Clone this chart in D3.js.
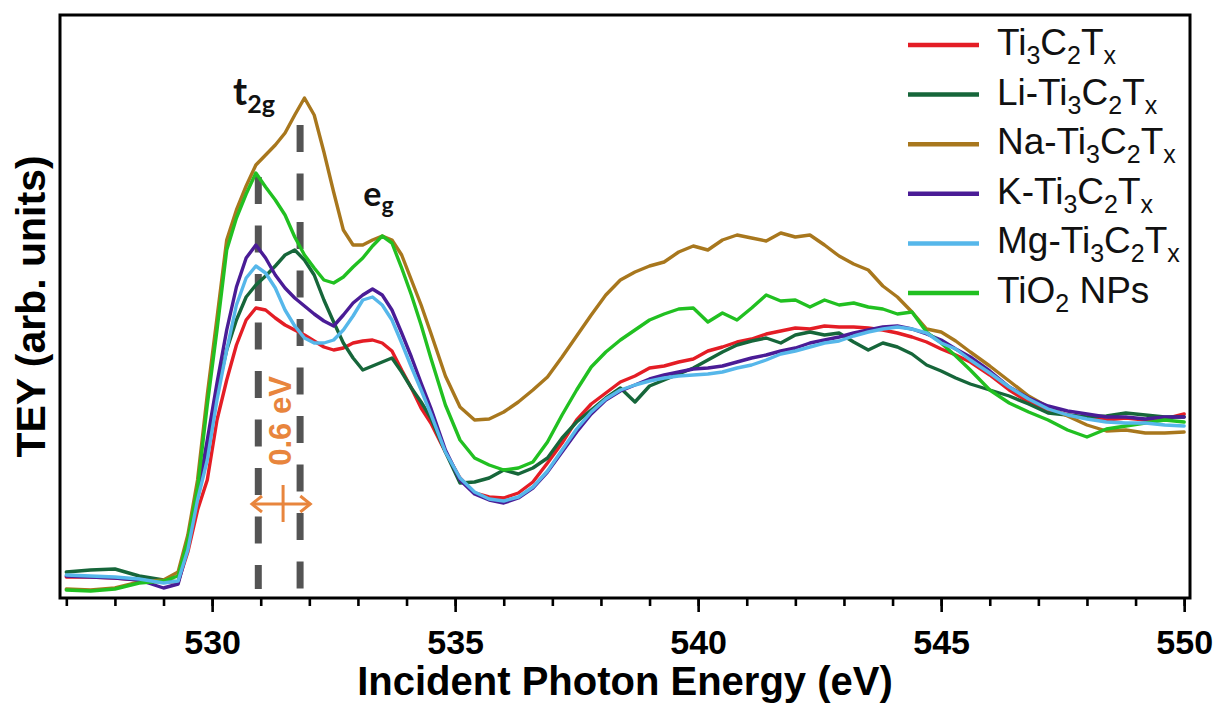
<!DOCTYPE html>
<html>
<head>
<meta charset="utf-8">
<script src="https://cdn.jsdelivr.net/npm/d3@7"></script>
<style>
  html, body { margin: 0; padding: 0; background: #fff; }
  svg { display: block; }
</style>
</head>
<body>
<svg id="chart" width="1217" height="704"></svg>
<script>
// ---------------- DATA ----------------
const energy = [527.0, 527.5, 528.0, 528.5, 529.0, 529.3, 529.5, 529.7, 529.9, 530.1,
  530.3, 530.5, 530.7, 530.9, 531.1, 531.3, 531.5, 531.7, 531.9, 532.1,
  532.3, 532.5, 532.7, 532.9, 533.1, 533.3, 533.5, 533.7, 533.9, 534.1,
  534.3, 534.5, 534.8, 535.1, 535.4, 535.7, 536.0, 536.3, 536.6, 536.9,
  537.2, 537.5, 537.8, 538.1, 538.4, 538.7, 539.0, 539.3, 539.6, 539.9,
  540.2, 540.5, 540.8, 541.1, 541.4, 541.7, 542.0, 542.3, 542.6, 542.9,
  543.2, 543.5, 543.8, 544.1, 544.4, 544.7, 545.0, 545.3, 545.6, 546.0,
  546.4, 546.8, 547.2, 547.6, 548.0, 548.4, 548.8, 549.2, 549.6, 550.0];

const ti3c2tx = [0.21, 0.21, 0.20, 0.18, 0.16, 0.16, 0.46, 0.88, 1.18, 1.78,
  2.18, 2.53, 2.78, 2.90, 2.88, 2.80, 2.73, 2.68, 2.63, 2.57,
  2.51, 2.48, 2.50, 2.55, 2.57, 2.58, 2.55, 2.47, 2.28, 2.10,
  1.90, 1.75, 1.46, 1.20, 1.05, 1.01, 1.00, 1.05, 1.16, 1.35,
  1.55, 1.78, 1.94, 2.05, 2.16, 2.22, 2.30, 2.32, 2.36, 2.39,
  2.47, 2.51, 2.56, 2.59, 2.64, 2.67, 2.70, 2.69, 2.72, 2.71,
  2.71, 2.70, 2.68, 2.65, 2.61, 2.56, 2.49, 2.43, 2.36, 2.23,
  2.08, 1.96, 1.88, 1.83, 1.80, 1.78, 1.80, 1.78, 1.79, 1.84];

const liTi3c2tx = [0.26, 0.28, 0.29, 0.22, 0.18, 0.16, 0.53, 1.03, 1.48, 2.06,
  2.48, 2.78, 3.01, 3.13, 3.22, 3.32, 3.43, 3.48, 3.38, 3.23,
  2.98, 2.76, 2.55, 2.40, 2.28, 2.32, 2.36, 2.40, 2.26, 2.10,
  1.96, 1.80, 1.46, 1.15, 1.16, 1.20, 1.28, 1.24, 1.30, 1.40,
  1.60, 1.76, 1.88, 2.00, 2.10, 1.96, 2.12, 2.18, 2.24, 2.30,
  2.38, 2.46, 2.53, 2.57, 2.60, 2.55, 2.63, 2.66, 2.63, 2.65,
  2.56, 2.48, 2.55, 2.51, 2.44, 2.33, 2.27, 2.20, 2.14, 2.08,
  2.02, 1.94, 1.85, 1.83, 1.81, 1.82, 1.85, 1.83, 1.81, 1.81];

const naTi3c2tx = [0.09, 0.08, 0.10, 0.16, 0.18, 0.26, 0.63, 1.18, 2.03, 2.80,
  3.58, 3.88, 4.12, 4.33, 4.43, 4.53, 4.65, 4.83, 5.00, 4.83,
  4.46, 4.06, 3.68, 3.53, 3.53, 3.58, 3.62, 3.58, 3.43, 3.18,
  2.93, 2.65, 2.22, 1.91, 1.78, 1.79, 1.86, 1.96, 2.08, 2.21,
  2.41, 2.62, 2.83, 3.03, 3.18, 3.26, 3.32, 3.36, 3.46, 3.52,
  3.48, 3.58, 3.63, 3.60, 3.57, 3.65, 3.61, 3.63, 3.53, 3.42,
  3.34, 3.28, 3.12, 3.01, 2.86, 2.69, 2.66, 2.57, 2.46, 2.32,
  2.17, 2.02, 1.91, 1.82, 1.73, 1.67, 1.68, 1.65, 1.65, 1.66];

const kTi3c2tx = [0.22, 0.21, 0.20, 0.18, 0.10, 0.14, 0.50, 1.03, 1.58, 2.15,
  2.68, 3.11, 3.40, 3.53, 3.40, 3.23, 3.10, 3.00, 2.92, 2.84,
  2.77, 2.72, 2.83, 2.95, 3.03, 3.09, 3.03, 2.88, 2.65, 2.41,
  2.15, 1.90, 1.48, 1.18, 1.04, 0.98, 0.95, 1.00, 1.10, 1.26,
  1.46, 1.66, 1.84, 1.98, 2.07, 2.13, 2.19, 2.23, 2.26, 2.29,
  2.30, 2.32, 2.36, 2.40, 2.43, 2.47, 2.50, 2.55, 2.58, 2.61,
  2.65, 2.68, 2.71, 2.72, 2.69, 2.64, 2.58, 2.49, 2.41, 2.27,
  2.11, 2.00, 1.92, 1.87, 1.84, 1.81, 1.81, 1.79, 1.81, 1.81];

const mgTi3c2tx = [0.23, 0.22, 0.21, 0.19, 0.15, 0.17, 0.48, 0.98, 1.38, 1.98,
  2.48, 2.93, 3.20, 3.32, 3.25, 3.10, 2.88, 2.72, 2.60, 2.55,
  2.55, 2.58, 2.68, 2.82, 2.98, 3.01, 2.93, 2.78, 2.55, 2.31,
  2.08, 1.84, 1.46, 1.20, 1.06, 0.99, 0.97, 1.01, 1.11, 1.27,
  1.48, 1.69, 1.86, 1.99, 2.08, 2.13, 2.17, 2.20, 2.22, 2.23,
  2.24, 2.26, 2.30, 2.33, 2.38, 2.44, 2.47, 2.51, 2.55, 2.57,
  2.62, 2.66, 2.69, 2.71, 2.69, 2.65, 2.55, 2.49, 2.38, 2.25,
  2.11, 1.99, 1.89, 1.83, 1.79, 1.76, 1.75, 1.75, 1.73, 1.72];

const tio2NPs = [0.08, 0.07, 0.09, 0.15, 0.17, 0.22, 0.58, 1.10, 1.93, 2.68,
  3.48, 3.80, 4.04, 4.25, 4.11, 3.98, 3.83, 3.61, 3.43, 3.30,
  3.18, 3.15, 3.21, 3.31, 3.40, 3.52, 3.62, 3.55, 3.30, 3.03,
  2.73, 2.40, 1.93, 1.58, 1.40, 1.33, 1.28, 1.30, 1.36, 1.56,
  1.83, 2.08, 2.31, 2.46, 2.58, 2.68, 2.78, 2.84, 2.89, 2.90,
  2.76, 2.85, 2.78, 2.90, 3.03, 2.97, 2.98, 2.91, 2.98, 2.93,
  2.95, 2.91, 2.89, 2.84, 2.86, 2.66, 2.55, 2.42, 2.28, 2.08,
  1.95, 1.86, 1.78, 1.68, 1.61, 1.69, 1.72, 1.75, 1.78, 1.76];

const seriesNames = ["Ti_3C_2T_x", "Li-Ti_3C_2T_x", "Na-Ti_3C_2T_x", "K-Ti_3C_2T_x", "Mg-Ti_3C_2T_x", "TiO_2 NPs"];
const seriesValues = [ti3c2tx, liTi3c2tx, naTi3c2tx, kTi3c2tx, mgTi3c2tx, tio2NPs];
const seriesColors = ["#e41d25", "#16663a", "#a8771d", "#4a1c96", "#56b7ea", "#21c021"];
const drawOrder = [0, 1, 2, 3, 5, 4];

const majorTicks = [530, 535, 540, 545, 550];
const minorTicks = d3.range(527, 551, 1);
const xDomain = [526.87, 550.12];
const yDomain = [0, 5.83];

// peak markers (eV) and their top values
const peakLines = [{e: 530.95, top: 4.21, bottom: 0.09}, {e: 531.81, top: 4.73, bottom: 0.09}];
const gapLabel = "0.6 eV";
const xTitle = "Incident Photon Energy (eV)";
const yTitle = "TEY (arb. units)";

// ---------------- LAYOUT ----------------
const svg = d3.select("#chart");
const L = 60, R = 1190, T = 15, B = 598;
const x = d3.scaleLinear().domain(xDomain).range([L, R]);
const y = d3.scaleLinear().domain(yDomain).range([B, T]);
const axisFont = "'Liberation Sans', Arial, Helvetica, sans-serif";

svg.append("defs").append("clipPath").attr("id", "plotclip")
  .append("rect").attr("x", L).attr("y", T).attr("width", R - L).attr("height", B - T);

// dashed peak lines
const gPeaks = svg.append("g");
peakLines.forEach(p => {
  gPeaks.append("line")
    .attr("x1", x(p.e)).attr("x2", x(p.e))
    .attr("y1", y(p.top)).attr("y2", y(p.bottom))
    .attr("stroke", "#545454").attr("stroke-width", 7)
    .attr("stroke-dasharray", "27,21.5");
});

// curves
const line = d3.line().x(d => x(d[0])).y(d => y(d[1]));
const gLines = svg.append("g").attr("clip-path", "url(#plotclip)");
drawOrder.forEach(i => {
  const pts = energy.map((e, k) => [e, seriesValues[i][k]]);
  gLines.append("path").datum(pts)
    .attr("d", line)
    .attr("fill", "none")
    .attr("stroke", seriesColors[i])
    .attr("stroke-width", 3.4)
    .attr("stroke-linejoin", "round")
    .attr("stroke-linecap", "round");
});

// orange double arrow + label
const orange = "#e8853d";
const ga = svg.append("g").attr("stroke", orange).attr("fill", "none").attr("stroke-width", 3);
const ax1 = x(530.82), ax2 = x(532.02), ay = y(0.94), axc = x(531.46);
ga.append("line").attr("x1", ax1).attr("x2", ax2).attr("y1", ay).attr("y2", ay);
ga.append("line").attr("x1", axc).attr("x2", axc).attr("y1", y(1.13)).attr("y2", y(0.76));
ga.append("path").attr("d", `M${ax1 + 10},${ay - 8} L${ax1},${ay} L${ax1 + 10},${ay + 8}`);
ga.append("path").attr("d", `M${ax2 - 10},${ay - 8} L${ax2},${ay} L${ax2 - 10},${ay + 8}`);
svg.append("text")
  .attr("transform", `translate(${x(531.42) + 10},${y(1.77)}) rotate(-90)`)
  .attr("text-anchor", "middle")
  .attr("font-family", axisFont).attr("font-weight", "bold").attr("font-size", 31)
  .attr("fill", orange)
  .text(gapLabel);

// peak labels
function subLabel(g, main, sub, ex, vy, size, subSize) {
  const t = g.append("text").attr("x", x(ex)).attr("y", y(vy))
    .attr("font-family", "Lato, 'Open Sans', sans-serif").attr("font-weight", "bold")
    .attr("font-size", size).attr("fill", "#111");
  t.append("tspan").text(main);
  t.append("tspan").attr("font-size", subSize).attr("dy", size * 0.2).text(sub);
}
subLabel(svg, "t", "2g", 530.43, 4.93, 38, 25);
subLabel(svg, "e", "g", 533.11, 3.92, 34, 23);

// frame
svg.append("rect").attr("x", L).attr("y", T).attr("width", R - L).attr("height", B - T)
  .attr("fill", "none").attr("stroke", "#000").attr("stroke-width", 3);

// axes
const gMinor = svg.append("g").attr("transform", `translate(0,${B})`)
  .call(d3.axisBottom(x).tickValues(minorTicks).tickSize(8).tickFormat(""));
const gMajor = svg.append("g").attr("transform", `translate(0,${B})`)
  .call(d3.axisBottom(x).tickValues(majorTicks).tickSize(14).tickPadding(18).tickFormat(d3.format("d")));
[gMinor, gMajor].forEach(g => {
  g.select(".domain").remove();
  g.selectAll(".tick line").attr("stroke", "#000").attr("stroke-width", 2.6);
});
gMajor.selectAll(".tick text")
  .attr("font-family", axisFont).attr("font-weight", "bold").attr("font-size", 34).attr("fill", "#000");

// axis titles
svg.append("text").attr("x", (L + R) / 2).attr("y", 695)
  .attr("text-anchor", "middle").attr("font-family", axisFont).attr("font-weight", "bold")
  .attr("font-size", 40).attr("fill", "#000").text(xTitle);
svg.append("text").attr("transform", `translate(45,${(T + B) / 2}) rotate(-90)`)
  .attr("text-anchor", "middle").attr("font-family", axisFont).attr("font-weight", "bold")
  .attr("font-size", 41).attr("fill", "#000").text(yTitle);

// legend
const legendX1 = 908, legendX2 = 979, legendTextX = 997, legendY0 = 45, legendDy = 49.6;
const gLeg = svg.append("g");
seriesNames.forEach((name, i) => {
  const ly = legendY0 + i * legendDy;
  gLeg.append("line").attr("x1", legendX1).attr("x2", legendX2).attr("y1", ly).attr("y2", ly)
    .attr("stroke", seriesColors[i]).attr("stroke-width", 4.5);
  const t = gLeg.append("text").attr("x", legendTextX).attr("y", ly + 10)
    .attr("font-family", axisFont).attr("font-size", 37).attr("fill", "#111");
  let k = 0, buf = "";
  const parts = [];
  while (k < name.length) {
    if (name[k] === "_") {
      if (buf) parts.push({s: buf, sub: false});
      buf = "";
      parts.push({s: name[k + 1], sub: true});
      k += 2;
    } else { buf += name[k]; k++; }
  }
  if (buf) parts.push({s: buf, sub: false});
  let shifted = false;
  parts.forEach(p => {
    const ts = t.append("tspan").text(p.s);
    if (p.sub && !shifted) { ts.attr("dy", 9).attr("font-size", 25); shifted = true; }
    else if (p.sub) { ts.attr("font-size", 25); }
    else if (shifted) { ts.attr("dy", -9); shifted = false; }
  });
});
</script>
</body>
</html>
